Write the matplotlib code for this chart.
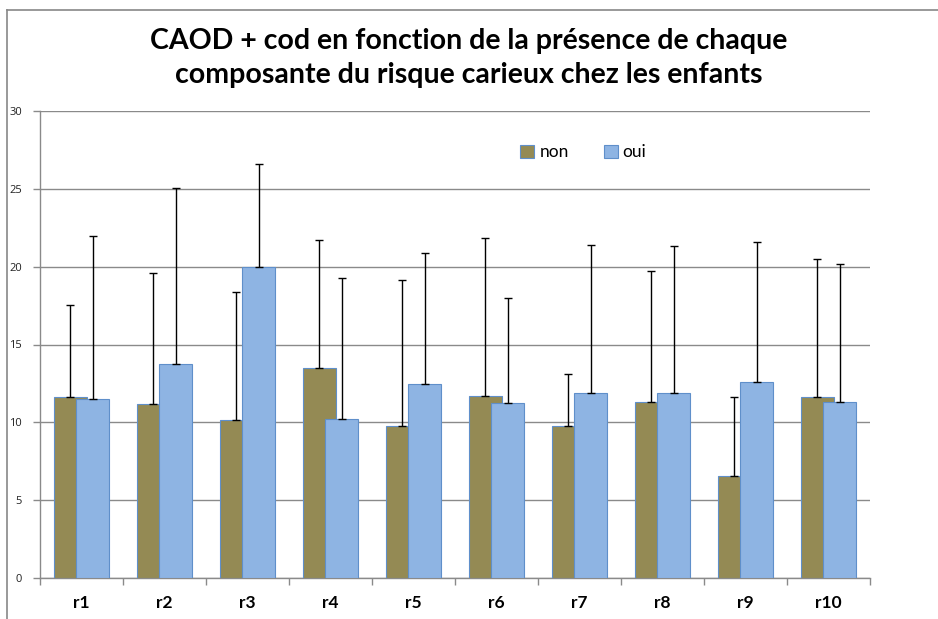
import matplotlib
matplotlib.use("Agg")
import matplotlib.pyplot as plt
from matplotlib.lines import Line2D
import numpy as np

categories = ["r1", "r2", "r3", "r4", "r5", "r6", "r7", "r8", "r9", "r10"]
non_mean = [11.6, 11.15, 10.13, 13.52, 9.79, 11.72, 9.79, 11.28, 6.57, 11.65]
non_top = [17.55, 19.6, 18.37, 21.73, 19.12, 21.83, 13.09, 19.74, 11.65, 20.47]
oui_mean = [11.48, 13.76, 19.99, 10.22, 12.47, 11.23, 11.91, 11.9, 12.57, 11.28]
oui_top = [21.96, 25.06, 26.6, 19.24, 20.91, 18.0, 21.42, 21.34, 21.58, 20.2]
series_names = ["non", "oui"]
y_ticks = [0, 5, 10, 15, 20, 25, 30]
title = "CAOD + cod en fonction de la présence de chaque\ncomposante du risque carieux chez les enfants"

non_err = np.array(non_top) - np.array(non_mean)
oui_err = np.array(oui_top) - np.array(oui_mean)

fig = plt.figure(figsize=(9.38, 6.19), dpi=100)
ax = fig.add_axes([40 / 938, 41 / 619, 830 / 938, 467 / 619])

x = np.arange(len(categories))
width = 0.4
offset = 0.133
edge = "#5f8fca"

ax.bar(x - offset, non_mean, width, color="#948A54", edgecolor=edge,
       linewidth=0.8, zorder=3, label=series_names[0])
ax.bar(x + offset, oui_mean, width, color="#8EB4E3", edgecolor=edge,
       linewidth=0.8, zorder=4, label=series_names[1])

ax.errorbar(x - offset, non_mean, yerr=[np.zeros(len(x)), non_err], fmt="none",
            ecolor="black", elinewidth=1, capsize=2.6, capthick=1, zorder=5)
ax.errorbar(x + offset, oui_mean, yerr=[np.zeros(len(x)), oui_err], fmt="none",
            ecolor="black", elinewidth=1, capsize=2.6, capthick=1, zorder=5)

ax.set_xlim(-0.5, len(categories) - 0.5)
ax.set_ylim(0, 30)
ax.set_yticks(y_ticks)
ax.set_yticklabels([str(t) for t in y_ticks], fontsize=8, color="#222222",
                   family="Open Sans")
ax.yaxis.grid(True, color="#8a8a8a", linewidth=1, zorder=0)
ax.set_axisbelow(True)

# category labels centered, tick marks on category boundaries
ax.set_xticks(x)
ax.set_xticklabels(categories, fontsize=12.5, fontweight="bold", family="Lato")
ax.tick_params(axis="x", which="major", length=0, pad=12)
ax.set_xticks(np.arange(-0.5, len(categories)), minor=True)
ax.tick_params(axis="x", which="minor", length=5, color="#8a8a8a", width=1)
ax.tick_params(axis="y", length=5, color="#8a8a8a", width=1, pad=8)

for s in ["top", "right"]:
    ax.spines[s].set_visible(False)
for s in ["left", "bottom"]:
    ax.spines[s].set_color("#8a8a8a")
    ax.spines[s].set_linewidth(1)

leg = ax.legend(loc="upper left", bbox_to_anchor=(0.56, 0.962), ncol=2, frameon=False,
                prop={"family": "Lato", "size": 12.5}, handlelength=0.8,
                handleheight=0.8, columnspacing=2.0, handletextpad=0.3)

fig.text(0.5, 1 - 28 / 619, title, ha="center", va="top", fontsize=20.5,
         fontweight="bold", family="Lato", linespacing=1.4)

# outer frame
fig.add_artist(Line2D([7 / 938, 1], [1 - 10 / 619, 1 - 10 / 619],
                      color="#888888", linewidth=1.2, transform=fig.transFigure))
fig.add_artist(Line2D([7 / 938, 7 / 938], [0, 1 - 10 / 619],
                      color="#888888", linewidth=1.2, transform=fig.transFigure))

fig.savefig("out.png", dpi=100)
